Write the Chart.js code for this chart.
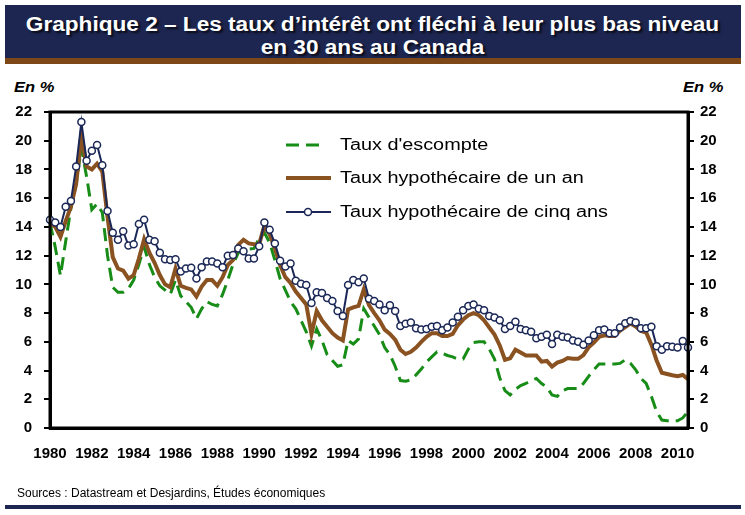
<!DOCTYPE html>
<html lang="fr">
<head>
<meta charset="utf-8">
<script src="https://cdn.jsdelivr.net/npm/chart.js@4.4.1/dist/chart.umd.min.js"></script>
<style>
  body { margin: 0; width: 745px; height: 515px; position: relative; overflow: hidden; background: #fff; font-family: "Liberation Sans", Arial, sans-serif; }
  #banner { position: absolute; left: 5px; top: 5px; width: 736px; height: 53px; background: #1d2651; }
  #bannerLine { position: absolute; left: 5px; top: 58px; width: 736px; height: 6px; background: #7d4718; }
  .title { position: absolute; left: 0; width: 745px; text-align: center; color: #fff; font-weight: bold; font-size: 20px; line-height: 23px; text-shadow: 2px 2px 2px rgba(0,0,0,0.75); transform: scaleX(1.13); }
  .unit { position: absolute; top: 78px; font-size: 15px; font-weight: bold; font-style: italic; transform: scaleX(1.1); transform-origin: left; }
  #sources { position: absolute; left: 17px; top: 486px; font-size: 12px; color: #000; }
  #footLine { position: absolute; left: 5px; top: 505px; width: 736px; height: 4px; background: #1d2651; }
  canvas { position: absolute; left: 0; top: 0; }
</style>
</head>
<body>
<div id="banner"></div>
<div id="bannerLine"></div>
<div class="title" style="top:13px">Graphique 2 – Les taux d’intérêt ont fléchi à leur plus bas niveau</div>
<div class="title" style="top:36px">en 30 ans au Canada</div>
<div class="unit" style="left:14px">En %</div>
<div class="unit" style="left:683px">En %</div>
<canvas id="chart" width="745" height="515"></canvas>
<div id="sources">Sources : Datastream et Desjardins, Études économiques</div>
<div id="footLine"></div>

<script>
// x axis: quarterly data, 1980T1 to 2010T3
const yearLabels = ['1980','1982','1984','1986','1988','1990','1992','1994','1996','1998','2000','2002','2004','2006','2008','2010'];
const quarters = [];
for (let y = 1980; y <= 2010; y++) {
  for (let q = 1; q <= 4; q++) quarters.push(y + 'T' + q);
}
quarters.length = 123;

// Taux d'escompte (Banque du Canada)
const tauxEscompte = [
  14.3, 12.6, 10.6, 13.0, 15.3, 17.0, 19.5, 17.5, 15.2, 15.6,
  15.0, 12.0, 9.8, 9.45, 9.45, 9.7, 10.3, 11.4, 12.6, 11.4,
  10.5, 9.9, 9.6, 9.3, 10.3, 9.2, 8.8, 8.4, 7.6, 8.3,
  8.8, 8.6, 8.5, 9.3, 10.3, 11.4, 12.2, 12.4, 12.45, 12.5,
  13.2, 13.6, 12.9, 11.7, 10.4, 9.6, 8.8, 8.3, 7.5, 6.7,
  5.7, 6.9, 6.1, 5.1, 4.7, 4.3, 4.4, 6.1, 5.85, 6.2,
  8.3, 7.7, 7.1, 6.5, 5.6, 5.1, 4.3, 3.3, 3.25, 3.35,
  3.7, 4.1, 4.6, 4.95, 5.3, 5.2, 5.05, 4.95, 4.8, 4.8,
  5.5, 5.95, 6.0, 6.0, 5.5, 4.8, 3.5, 2.6, 2.3, 2.7,
  2.95, 3.1, 3.3, 3.45, 3.1, 2.85, 2.3, 2.2, 2.6, 2.75,
  2.75, 2.75, 3.1, 3.6, 4.05, 4.45, 4.45, 4.45, 4.45, 4.5,
  4.75, 4.5, 4.05, 3.45, 3.1, 2.2, 1.15, 0.55, 0.5, 0.5,
  0.5, 0.7, 1.15
];

// Taux hypothécaire de un an
const hypoUnAn = [
  14.3, 14.0, 13.3, 14.4, 15.4, 17.0, 20.4, 18.2, 18.0, 18.4,
  17.85, 14.7, 11.9, 11.1, 10.95, 10.4, 10.65, 11.8, 13.15, 12.2,
  11.5, 10.65, 10.0, 9.8, 11.1, 9.9, 9.75, 9.65, 9.15, 9.85,
  10.3, 10.3, 9.9, 10.5, 11.35, 11.7, 12.75, 13.1, 12.85, 12.8,
  12.8, 14.1, 13.5, 12.5, 11.35, 10.5, 10.1, 9.5, 9.05, 8.6,
  6.55, 8.15, 7.5, 7.05, 6.6, 6.3, 6.1, 8.25, 8.4, 8.5,
  9.65, 8.55, 8.0, 7.5, 6.85, 6.55, 6.15, 5.45, 5.15, 5.3,
  5.6, 6.0, 6.35, 6.6, 6.6, 6.4, 6.4, 6.55, 7.15, 7.55,
  7.85, 8.0, 7.85, 7.5, 7.0, 6.5, 5.75, 4.75, 4.85, 5.45,
  5.25, 5.05, 5.05, 5.05, 4.62, 4.67, 4.27, 4.55, 4.67, 4.87,
  4.82, 4.82, 5.08, 5.62, 5.95, 6.35, 6.45, 6.41, 6.41, 6.78,
  7.02, 7.28, 7.07, 6.75, 6.65, 5.8, 4.7, 3.85, 3.76, 3.67,
  3.6, 3.69, 3.4
];

// Taux hypothécaire de cinq ans
const hypoCinqAns = [
  14.5, 14.3, 14.0, 15.4, 15.8, 18.2, 21.3, 18.6, 19.3, 19.7,
  18.3, 15.1, 13.6, 13.1, 13.7, 12.7, 12.8, 14.2, 14.5, 13.1,
  13.0, 12.2, 11.75, 11.7, 11.75, 10.9, 11.1, 11.15, 10.4, 11.2,
  11.6, 11.6, 11.45, 11.2, 12.0, 12.05, 12.5, 12.3, 11.8, 11.8,
  12.65, 14.3, 13.8, 12.85, 11.65, 11.25, 11.45, 10.25, 10.05, 9.95,
  8.7, 9.45, 9.4, 9.05, 8.85, 8.15, 7.8, 9.95, 10.3, 10.15,
  10.4, 9.0, 8.85, 8.6, 8.2, 8.55, 8.15, 7.1, 7.25, 7.35,
  6.95, 6.85, 6.9, 7.05, 7.1, 6.8, 7.0, 7.35, 7.75, 8.2,
  8.5, 8.6, 8.3, 8.2, 7.8, 7.7, 7.5, 6.9, 7.1, 7.4,
  6.9, 6.8, 6.7, 6.25, 6.35, 6.5, 5.85, 6.5, 6.35, 6.3,
  6.1, 6.0, 5.8, 6.1, 6.45, 6.8, 6.85, 6.6, 6.6, 7.0,
  7.3, 7.45, 7.35, 6.95, 6.95, 7.05, 5.7, 5.45, 5.7, 5.65,
  5.6, 6.05, 5.6
];

const tickFont = { family: '"Liberation Sans", Arial, sans-serif', size: 15, weight: 'bold' };

// legend drawn inside the plot, one row per series
const insideLegend = {
  id: 'insideLegend',
  afterDraw(chart) {
    const ctx = chart.ctx;
    const rows = [145, 178, 212];
    chart.data.datasets.forEach((ds, k) => {
      const y = rows[k];
      ctx.save();
      ctx.strokeStyle = ds.borderColor;
      ctx.lineWidth = ds.borderWidth;
      ctx.setLineDash(ds.borderDash || []);
      ctx.beginPath();
      ctx.moveTo(286, y);
      ctx.lineTo(k === 0 ? 322 : 331, y);
      ctx.stroke();
      if (ds.pointRadius) {
        ctx.setLineDash([]);
        ctx.beginPath();
        ctx.arc(308, y, ds.pointRadius, 0, Math.PI * 2);
        ctx.fillStyle = ds.pointBackgroundColor;
        ctx.fill();
        ctx.lineWidth = ds.pointBorderWidth;
        ctx.strokeStyle = ds.pointBorderColor;
        ctx.stroke();
      }
      ctx.font = '16px "Liberation Sans", Arial, sans-serif';
      ctx.fillStyle = '#000';
      ctx.textBaseline = 'middle';
      ctx.translate(340, y);
      ctx.scale(1.24, 1);
      ctx.fillText(ds.label, 0, 1);
      ctx.restore();
    });
  }
};

// black frame round the plot area
const plotFrame = {
  id: 'plotFrame',
  afterDraw(chart) {
    const a = chart.chartArea, ctx = chart.ctx;
    ctx.save();
    ctx.strokeStyle = '#000';
    ctx.lineWidth = 3;
    ctx.strokeRect(a.left, a.top, a.right - a.left, a.bottom - a.top);
    ctx.restore();
  }
};

new Chart(document.getElementById('chart'), {
  type: 'line',
  plugins: [insideLegend, plotFrame],
  data: {
    labels: quarters,
    datasets: [
      {
        label: "Taux d'escompte",
        data: tauxEscompte,
        borderColor: '#178c17',
        borderWidth: 3,
        borderDash: [13, 7],
        pointRadius: 0,
        order: 3
      },
      {
        label: 'Taux hypothécaire de un an',
        data: hypoUnAn,
        borderColor: '#8a5220',
        borderWidth: 4,
        pointRadius: 0,
        order: 2
      },
      {
        label: 'Taux hypothécaire de cinq ans',
        data: hypoCinqAns,
        borderColor: '#1b2857',
        borderWidth: 2,
        pointRadius: 3.5,
        pointBackgroundColor: '#ffffff',
        pointBorderColor: '#1b2857',
        pointBorderWidth: 1.5,
        order: 1
      }
    ]
  },
  options: {
    responsive: false,
    animation: false,
    layout: { padding: { top: 112, left: 0, right: 0, bottom: 0 } },
    plugins: { legend: { display: false }, tooltip: { enabled: false } },
    scales: {
      x: {
        type: 'category',
        offset: false,
        grid: { display: false, drawTicks: false },
        border: { display: true, color: '#000', width: 3 },
        ticks: {
          autoSkip: false,
          maxRotation: 0,
          padding: 17,
          color: '#000',
          font: tickFont,
          callback: (v, i) => (i % 8 === 0 ? yearLabels[i / 8] : '')
        },
        afterFit: s => { s.height = 87; }
      },
      y: {
        position: 'left',
        min: 0,
        max: 22,
        grid: { drawOnChartArea: false, tickLength: 6, color: '#000', lineWidth: 2 },
        border: { color: '#000', width: 3 },
        ticks: { stepSize: 2, padding: 12, color: '#000', font: tickFont },
        afterFit: s => { s.width = 50; }
      },
      y2: {
        position: 'right',
        min: 0,
        max: 22,
        grid: { drawOnChartArea: false, tickLength: 6, color: '#000', lineWidth: 2 },
        border: { color: '#000', width: 3 },
        ticks: { stepSize: 2, padding: 6, color: '#000', font: tickFont },
        afterFit: s => { s.width = 57; }
      }
    }
  }
});
</script>
</body>
</html>
